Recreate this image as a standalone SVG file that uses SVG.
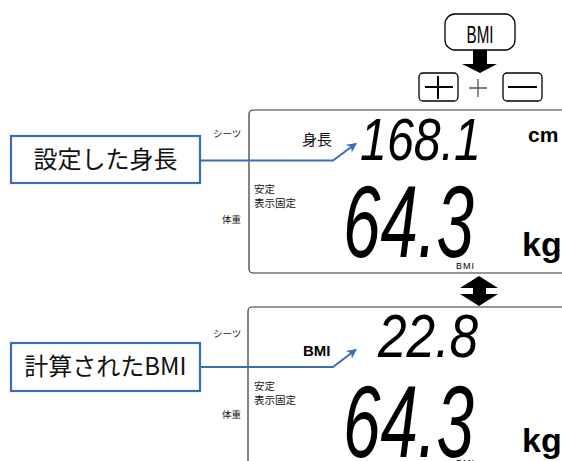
<svg xmlns="http://www.w3.org/2000/svg" width="562" height="461" viewBox="0 0 562 461">
<defs>
<style>
.panel{fill:#fff;stroke:#333;stroke-width:1.2}
.jp{font-family:"Noto Sans CJK JP","Noto Sans",sans-serif;fill:#111}
.lbl{fill:#fff;stroke:#3a6db5;stroke-width:2.2}
.conn{fill:none;stroke:#3a6db5;stroke-width:2}
.seg{font-family:"Liberation Sans",Arial,sans-serif;font-style:italic;fill:#000}
.unit{font-family:"Liberation Sans",Arial,sans-serif;font-weight:bold;fill:#000}
.sm{font-family:"Liberation Sans",Arial,sans-serif;font-size:9px;fill:#000}
.btn{fill:#fff;stroke:#000;stroke-width:1.3}
</style>
<marker id="ah" viewBox="0 0 10 10" refX="9" refY="5" markerWidth="5" markerHeight="5" orient="auto" markerUnits="strokeWidth">
<path d="M0,0 L10,5 L0,10 L3,5 Z" fill="#3a6db5"/>
</marker>
</defs>
<rect width="562" height="461" fill="#fff"/>

<g id="bmi-button">
<rect class="btn" x="445" y="14" width="70" height="36" rx="10"/>
<text x="480" y="43" text-anchor="middle" font-family="Liberation Sans,Arial,sans-serif" font-size="23" textLength="27" lengthAdjust="spacingAndGlyphs">BMI</text>
</g>
<g id="down-arrow">
<polygon points="473,50 487,50 487,64 497,64 480,73 462,64 473,64" fill="#000"/>
</g>
<g id="plus-button">
<rect class="btn" x="419" y="73" width="39" height="28" rx="4"/>
<path d="M425,87 H453 M438,76 V99" stroke="#000" stroke-width="2" fill="none"/>
</g>
<g id="plus-sign">
<path d="M469,88 H487 M478,79 V97" stroke="#555" stroke-width="1.3" fill="none"/>
</g>
<g id="minus-button">
<rect class="btn" x="503" y="73" width="39" height="28" rx="4"/>
<path d="M508,87 H537" stroke="#000" stroke-width="2" fill="none"/>
</g>

<g id="panel-top">
<rect class="panel" x="249" y="110" width="330" height="163" rx="4"/>
<text class="jp" x="302" y="145" font-size="15">身長</text>
<text class="seg" x="360" y="160" font-size="60" textLength="121" lengthAdjust="spacingAndGlyphs">168.1</text>
<text class="unit" x="528" y="142" font-size="21">cm</text>
<text class="jp" x="254" y="193" font-size="10.5">安定</text>
<text class="jp" x="254" y="207" font-size="10.5">表示固定</text>
<text class="seg" x="343" y="257" font-size="102" textLength="131" lengthAdjust="spacingAndGlyphs">64.3</text>
<text class="unit" x="522" y="256" font-size="34">kg</text>
<text class="sm" x="456" y="269" letter-spacing="1">BMI</text>
</g>
<g id="side-top">
<text class="jp" x="213" y="137" font-size="9.5">シーツ</text>
<text class="jp" x="222" y="223" font-size="9.5">体重</text>
</g>

<g id="swap-arrow">
<polygon points="479,276 498,288 486,288 486,294 498,294 479,306 460,294 473,294 473,288 460,288" fill="#000"/>
</g>

<g id="panel-bottom">
<rect class="panel" x="248" y="307" width="330" height="170" rx="4"/>
<text class="unit" x="303" y="356" font-size="15">BMI</text>
<text class="seg" x="378" y="357" font-size="62" textLength="100" lengthAdjust="spacingAndGlyphs">22.8</text>
<text class="jp" x="254" y="390" font-size="10.5">安定</text>
<text class="jp" x="254" y="404" font-size="10.5">表示固定</text>
<text class="seg" x="343" y="457" font-size="102" textLength="131" lengthAdjust="spacingAndGlyphs">64.3</text>
<text class="unit" x="522" y="452" font-size="34">kg</text>
<text class="sm" x="456" y="466" letter-spacing="1">BMI</text>
</g>
<g id="side-bottom">
<text class="jp" x="213" y="337" font-size="9.5">シーツ</text>
<text class="jp" x="222" y="418" font-size="9.5">体重</text>
</g>

<g id="label-height">
<rect class="lbl" x="11" y="136" width="189" height="47"/>
<text class="jp" x="105.5" y="168" font-size="24" text-anchor="middle">設定した身長</text>
</g>
<g id="label-bmi">
<rect class="lbl" x="11" y="343" width="189" height="48"/>
<text class="jp" x="105.5" y="375" font-size="24" text-anchor="middle">計算されたBMI</text>
</g>

<g id="connectors">
<path class="conn" d="M200,160.5 H333 L356,143.5" marker-end="url(#ah)"/>
<path class="conn" d="M200,367 H333 L356,349.5" marker-end="url(#ah)"/>
</g>
</svg>
